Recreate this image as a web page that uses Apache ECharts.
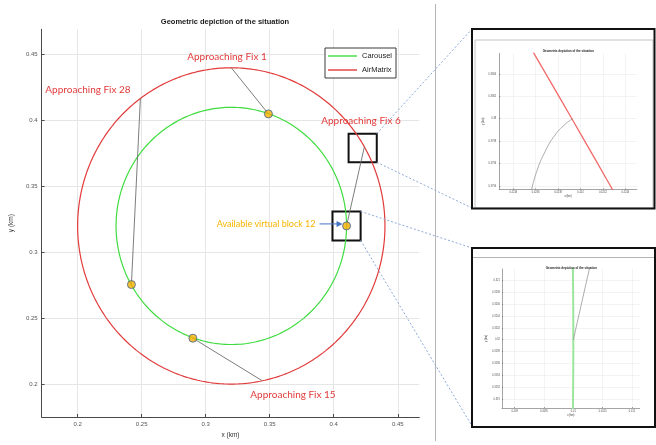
<!DOCTYPE html>
<html>
<head>
<meta charset="utf-8">
<script src="https://cdn.jsdelivr.net/npm/echarts@6/dist/echarts.min.js"></script>
<style>
  html, body { margin: 0; padding: 0; background: #ffffff; }
  #chart { width: 656px; height: 445px; }
</style>
</head>
<body>
<div id="chart"></div>
<script>
// Geometry of the two rings (km)
const ringCenter = [0.32, 0.32];
const carouselRadius = 0.09;
const airMatrixRadius = 0.12;

// Approach trajectories: entry on the AirMatrix ring -> point on the Carousel
const fix1Path  = [[0.3200, 0.4400], [0.3490, 0.4050]];
const fix28Path = [[0.2490, 0.4166], [0.2420, 0.2755]];
const fix15Path = [[0.3440, 0.2026], [0.2900, 0.2348]];
const fix6Path  = [[0.42393, 0.38000], [0.423861, 0.379949], [0.423772, 0.379854],
                   [0.423683, 0.379705], [0.423608, 0.379527], [0.423564, 0.379369],
                   [0.4100, 0.3200]];

// Points where the trajectories join the Carousel
const joinPoints = [[0.3490, 0.4050], [0.2420, 0.2755], [0.2900, 0.2348], [0.4100, 0.3200]];

// Detail windows [xmin, xmax, ymin, ymax]
const zoomBoxes = [[0.4116, 0.4336, 0.3683, 0.3900], [0.3990, 0.4210, 0.3090, 0.3310]];

// Tick labels
const mainXTicks = [0.2, 0.25, 0.3, 0.35, 0.4, 0.45];
const mainYTicks = [0.2, 0.25, 0.3, 0.35, 0.4, 0.45];
const fix6XTicks = [0.4234, 0.4236, 0.4238, 0.424, 0.4242, 0.4244];
const fix6YTicks = [0.3794, 0.3796, 0.3798, 0.38, 0.3802, 0.3804];
const blockXTicks = [0.409, 0.4095, 0.41, 0.4105, 0.411];
const blockYTicks = [0.319, 0.3192, 0.3194, 0.3196, 0.3198, 0.32, 0.3202, 0.3204, 0.3206, 0.3208, 0.321];

// Text
const chartTitle = 'Geometric depiction of the situation';
const fixLabels = ['Approaching Fix 1', 'Approaching Fix 28', 'Approaching Fix 6', 'Approaching Fix 15'];
const blockLabel = 'Available virtual block 12';

function ring(center, r, n) {
  const pts = [];
  for (let k = 0; k <= n; k++) {
    const a = 2 * Math.PI * k / n;
    pts.push([center[0] + r * Math.cos(a), center[1] + r * Math.sin(a)]);
  }
  return pts;
}
const carouselRing = ring(ringCenter, carouselRadius, 3600);
const airMatrixRing = ring(ringCenter, airMatrixRadius, 3600);

const FONT = '"Liberation Sans", Arial, sans-serif';
const GREEN = '#3fdc3f';
const RED = '#e23a3a';
const GREY = '#6e6e6e';

function axisPair(grid, xr, yr, xt, yt, opt) {
  const common = {
    type: 'value', gridIndex: grid, scale: true,
    axisLine: { show: true, lineStyle: { color: '#4a4a4a', width: opt.lw } },
    splitLine: { show: true, lineStyle: { color: '#e6e6e6', width: opt.lw } },
    nameLocation: 'middle',
    nameTextStyle: { fontFamily: FONT, fontSize: opt.nameSize, color: '#333' }
  };
  const x = Object.assign({}, common, {
    min: xr[0], max: xr[1], name: 'x (km)', nameGap: opt.xNameGap,
    axisTick: { show: true, inside: true, length: opt.tick, customValues: xt, lineStyle: { color: '#4a4a4a', width: opt.lw } },
    axisLabel: { customValues: xt, fontFamily: FONT, fontSize: opt.labelSize, color: '#555', margin: opt.xMargin,
                 formatter: v => String(+v.toFixed(6)) }
  });
  const y = Object.assign({}, common, {
    min: yr[0], max: yr[1], name: 'y (km)', nameGap: opt.yNameGap,
    axisTick: { show: true, inside: true, length: opt.tick, customValues: yt, lineStyle: { color: '#4a4a4a', width: opt.lw } },
    axisLabel: { customValues: yt, fontFamily: FONT, fontSize: opt.labelSize, color: '#555', margin: opt.yMargin,
                 formatter: v => String(+v.toFixed(6)) }
  });
  return [x, y];
}

const mainAxes = axisPair(0, [0.17184, 0.46682], [0.1750, 0.4692], mainXTicks, mainYTicks,
  { lw: 1, tick: 3, labelSize: 6, nameSize: 6.5, xMargin: 4, yMargin: 4, xNameGap: 15, yNameGap: 17 });
const fix6Axes = axisPair(1, [0.423275, 0.4245018], [0.37937, 0.380584], fix6XTicks, fix6YTicks,
  { lw: 0.5, tick: 1, labelSize: 2.6, nameSize: 2.6, xMargin: 1.5, yMargin: 3, xNameGap: 5, yNameGap: 7 });
const blockAxes = axisPair(2, [0.408784, 0.411131], [0.318849, 0.321192], blockXTicks, blockYTicks,
  { lw: 0.5, tick: 1, labelSize: 2.6, nameSize: 2.6, xMargin: 2, yMargin: 2, xNameGap: 5, yNameGap: 8 });

function lineSeries(name, data, color, width, xi, smooth) {
  return { type: 'line', name: name, data: data, xAxisIndex: xi, yAxisIndex: xi,
           symbol: 'none', silent: true, animation: false, clip: true, smooth: smooth || false,
           lineStyle: { color: color, width: width }, itemStyle: { color: color } };
}

const option = {
  animation: false,
  backgroundColor: '#ffffff',
  grid: [
    { left: 31.7, top: 29.3, width: 387.6, height: 387.7 },
    { left: 499.3, top: 53.3, width: 137.4, height: 136 },
    { left: 502, top: 269, width: 137.7, height: 139 }
  ],
  xAxis: [mainAxes[0], fix6Axes[0], blockAxes[0]],
  yAxis: [mainAxes[1], fix6Axes[1], blockAxes[1]],
  legend: {
    data: [{ name: 'Carousel', icon: 'rect' }, { name: 'AirMatrix', icon: 'rect' }],
    orient: 'vertical', left: 325, top: 48,
    itemWidth: 29, itemHeight: 1.4, itemGap: 6,
    textStyle: { fontFamily: FONT, fontSize: 7.5, color: '#222' },
    borderColor: '#3a3a3a', borderWidth: 1, padding: [4, 4, 4, 3], backgroundColor: '#fff', selectedMode: false
  },
  series: [
    lineSeries('Carousel', carouselRing, GREEN, 1.2, 0),
    lineSeries('AirMatrix', airMatrixRing, RED, 1.2, 0),
    lineSeries('Fix 1', fix1Path, GREY, 0.9, 0),
    lineSeries('Fix 28', fix28Path, GREY, 0.9, 0),
    lineSeries('Fix 15', fix15Path, GREY, 0.9, 0),
    Object.assign(lineSeries('Fix 6', fix6Path, GREY, 0.9, 0), {
      markArea: {
        silent: true,
        itemStyle: { color: 'rgba(0,0,0,0)', borderColor: '#111', borderWidth: 2 },
        data: zoomBoxes.map(b => [{ coord: [b[0], b[3]] }, { coord: [b[1], b[2]] }])
      }
    }),
    { type: 'scatter', name: 'joins', data: joinPoints, xAxisIndex: 0, yAxisIndex: 0,
      symbolSize: 8, silent: true, animation: false, z: 5,
      itemStyle: { color: '#f7b000', borderColor: '#3f5f8f', borderWidth: 1 } },
    lineSeries('AirMatrix detail', airMatrixRing, '#f26a6a', 1.3, 1),
    lineSeries('Fix 6 detail', fix6Path.slice(0, 6), '#8a8a8a', 0.7, 1, 0.5),
    lineSeries('Fix 6 detail tail', fix6Path.slice(5), '#8a8a8a', 0.7, 1),
    lineSeries('Carousel detail', carouselRing, '#9be69b', 2, 2),
    lineSeries('Fix 6 block detail', fix6Path, '#8a8a8a', 0.7, 2)
  ]
};

const chart = echarts.init(document.getElementById('chart'), null, { renderer: 'canvas' });
chart.setOption(option);

const toPx = p => chart.convertToPixel({ gridIndex: 0 }, p);
const box1TR = toPx([zoomBoxes[0][1], zoomBoxes[0][3]]);
const box1BR = toPx([zoomBoxes[0][1], zoomBoxes[0][2]]);
const box2TR = toPx([zoomBoxes[1][1], zoomBoxes[1][3]]);
const box2BR = toPx([zoomBoxes[1][1], zoomBoxes[1][2]]);
const blockPx = toPx(joinPoints[3]);

const dash = { stroke: '#8eaadb', lineWidth: 1, lineDash: [2, 2] };
function link(a, b) { return { type: 'line', shape: { x1: a[0], y1: a[1], x2: b[0], y2: b[1] }, style: dash, z: 20 }; }
function txt(x, y, text, size, color, extra) {
  return { type: 'text', x: x, y: y, z: 30,
           style: Object.assign({ text: text, fontSize: size, fill: color, fontFamily: FONT,
                                  align: 'center', verticalAlign: 'middle' }, extra || {}) };
}
const noteStyle = { fontFamily: 'Lato, "Open Sans", sans-serif' };

chart.setOption({
  graphic: [
    // divider between the overview and the detail panels
    { type: 'line', shape: { x1: 435.5, y1: 4, x2: 435.5, y2: 441 }, style: { stroke: '#b4b4b4', lineWidth: 1 }, z: 10 },
    txt(225, 22, chartTitle, 7.5, '#1a1a1a', { fontWeight: 'bold' }),
    txt(227, 57, fixLabels[0], 10, RED, noteStyle),
    txt(88, 89.5, fixLabels[1], 10, RED, noteStyle),
    txt(361, 121, fixLabels[2], 10, RED, noteStyle),
    txt(293, 395, fixLabels[3], 10, RED, noteStyle),
    txt(blockPx[0] - 31, blockPx[1] - 2, blockLabel, 9, '#f7b500', Object.assign({ align: 'right' }, noteStyle)),
    { type: 'line', z: 30, shape: { x1: blockPx[0] - 27, y1: blockPx[1] - 2, x2: blockPx[0] - 9, y2: blockPx[1] - 2 },
      style: { stroke: '#4472c4', lineWidth: 1 } },
    { type: 'polygon', z: 30, shape: { points: [[blockPx[0] - 4, blockPx[1] - 2], [blockPx[0] - 10, blockPx[1] - 5], [blockPx[0] - 10, blockPx[1] + 1]] },
      style: { fill: '#4472c4' } },
    // connectors to the detail panels
    link(box1TR, [472, 29]), link(box1BR, [472, 208]),
    link(box2TR, [472, 248]), link(box2BR, [472, 426]),
    // detail panel frames
    { type: 'rect', z: 9, shape: { x: 475, y: 40, width: 178, height: 168 }, style: { fill: 'none', stroke: '#c4c4c4', lineWidth: 1 } },
    { type: 'rect', z: 21, shape: { x: 472, y: 29, width: 182.5, height: 179.5 }, style: { fill: 'none', stroke: '#111', lineWidth: 2 } },
    { type: 'line', z: 9, shape: { x1: 473, y1: 257.5, x2: 655, y2: 257.5 }, style: { stroke: '#b4b4b4', lineWidth: 1 } },
    { type: 'rect', z: 21, shape: { x: 472, y: 248, width: 183, height: 179 }, style: { fill: 'none', stroke: '#111', lineWidth: 2 } },
    txt(568.3, 50.7, chartTitle, 3, '#1a1a1a', { fontWeight: 'bold' }),
    txt(571.3, 268, chartTitle, 3, '#1a1a1a', { fontWeight: 'bold' })
  ]
});
</script>
</body>
</html>
